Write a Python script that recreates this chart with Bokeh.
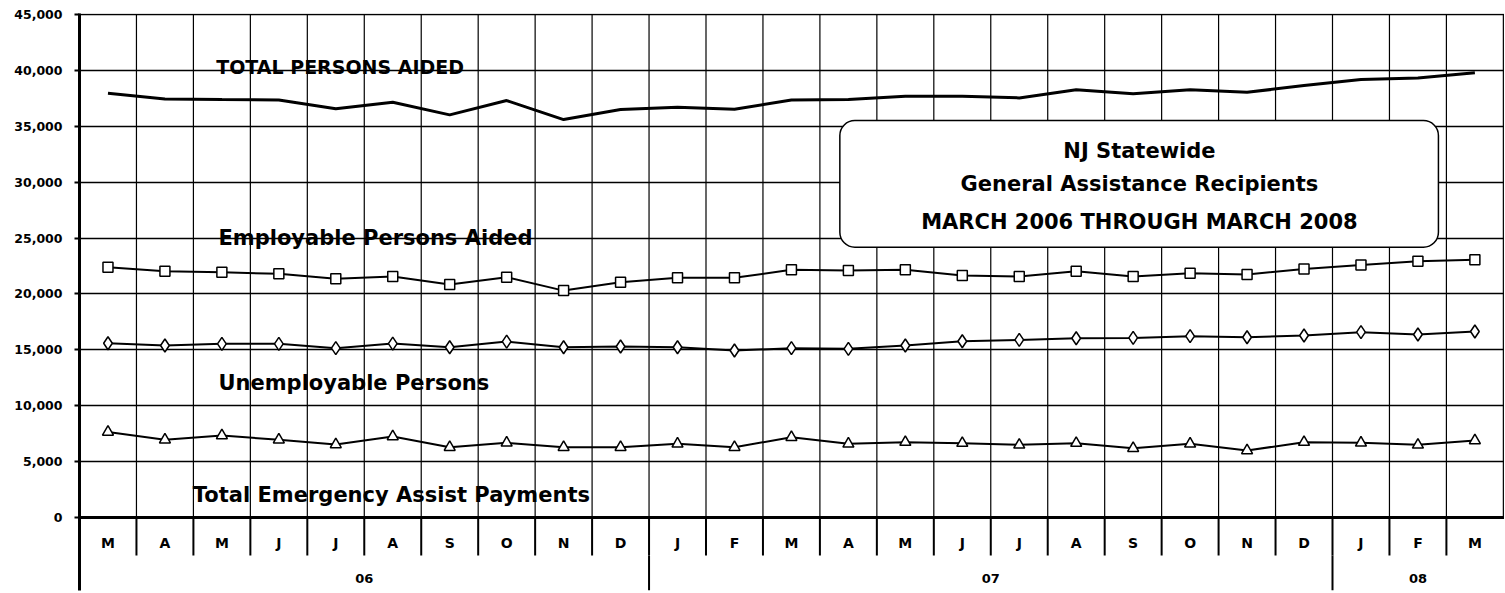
import numpy as np
from bokeh.plotting import figure
from bokeh.models import (Range1d, FixedTicker, NumeralTickFormatter, BoxAnnotation,
                          Label, Span, ColumnDataSource)
from bokeh.embed import file_html
from bokeh.resources import INLINE
from bokeh.core.properties import value

# ---------------- data ----------------
months = ["M", "A", "M", "J", "J", "A", "S", "O", "N", "D",
          "J", "F", "M", "A", "M", "J", "J", "A", "S", "O", "N", "D",
          "J", "F", "M"]
years = ["06", "07", "08"]
year_len = [10, 12, 3]

total_persons = [37950, 37450, 37400, 37360, 36560, 37150, 36020, 37300, 35600, 36500,
                 36700, 36520, 37360, 37390, 37690, 37690, 37540, 38260, 37900, 38260,
                 38040, 38640, 39180, 39330, 39780]
employable = [22390, 22030, 21940, 21800, 21350, 21560, 20840, 21500, 20300, 21050,
              21440, 21440, 22160, 22090, 22160, 21650, 21560, 22030, 21560, 21860,
              21740, 22240, 22600, 22930, 23050]
unemployable = [15590, 15390, 15540, 15540, 15150, 15560, 15230, 15740, 15230, 15300,
                15230, 14940, 15150, 15090, 15390, 15770, 15890, 16040, 16070, 16220,
                16130, 16280, 16580, 16370, 16640]
emergency = [7650, 6950, 7340, 6950, 6530, 7250, 6290, 6680, 6290, 6290,
             6590, 6290, 7180, 6590, 6740, 6650, 6500, 6650, 6200, 6590,
             5990, 6740, 6680, 6500, 6890]

y_ticks = list(range(0, 45001, 5000))

series_labels = ["TOTAL PERSONS AIDED", "Employable Persons Aided",
                 "Unemployable Persons", "Total Emergency Assist Payments"]
title_lines = ["NJ Statewide", "General Assistance Recipients",
               "MARCH 2006 THROUGH MARCH 2008"]

# ---------------- layout constants ----------------
Y_TOP = 45090
Y_BOTTOM = -6530
MONTH_ROW_BOTTOM = -3400
MONTH_LABEL_Y = -2300
YEAR_LABEL_Y = -5500
FONT = "DejaVu Sans"

n = len(months)
x = list(range(n))

p = figure(width=1504, height=592, output_backend="svg", toolbar_location=None,
           x_range=Range1d(-0.5, n - 0.48), y_range=Range1d(Y_BOTTOM, Y_TOP),
           x_axis_location=None, min_border_left=79, min_border_right=0,
           min_border_top=13, min_border_bottom=2)
p.outline_line_color = None
p.background_fill_color = "white"
p.border_fill_color = "white"

# y axis
p.yaxis.ticker = FixedTicker(ticks=y_ticks)
p.yaxis.formatter = NumeralTickFormatter(format="0,0")
p.yaxis.major_label_text_font = FONT
p.yaxis.major_label_text_font_style = "bold"
p.yaxis.major_label_text_font_size = "12.5px"
p.yaxis.major_label_text_color = "black"
p.yaxis.major_tick_out = 5
p.yaxis.major_tick_in = 0
p.yaxis.major_tick_line_width = 2
p.yaxis.minor_tick_line_color = None
p.yaxis.axis_line_width = 3
p.yaxis.axis_line_color = "black"
p.yaxis.major_label_standoff = 12

# grids
p.xgrid.visible = False
p.ygrid.grid_line_color = "black"
p.ygrid.grid_line_width = 1.3
p.ygrid.grid_line_alpha = 1.0

# vertical month boundaries (inside plot)
bounds = [i + 0.5 for i in range(n)]
p.segment(x0=bounds, y0=[0] * n, x1=bounds, y1=[y_ticks[-1]] * n,
          line_color="black", line_width=1.2)
# month row separators
inner = bounds[:-1]
p.segment(x0=inner, y0=[MONTH_ROW_BOTTOM] * len(inner), x1=inner, y1=[0] * len(inner),
          line_color="black", line_width=2)
# year separators
ystarts = list(np.cumsum([0] + year_len[:-1]))
ybounds = [s - 0.5 for s in ystarts[1:]]
p.segment(x0=ybounds, y0=[Y_BOTTOM] * len(ybounds), x1=ybounds,
          y1=[MONTH_ROW_BOTTOM] * len(ybounds), line_color="black", line_width=2)

# baseline at zero
p.add_layout(Span(location=0, dimension="width", line_color="black", line_width=3))

# category labels
p.text(x=x, y=[MONTH_LABEL_Y] * n, text=months, text_align="center",
       text_baseline="middle", text_font=value(FONT), text_font_style="bold",
       text_font_size="14px", text_color="black")
ycenters = [s + (l - 1) / 2 for s, l in zip(ystarts, year_len)]
p.text(x=ycenters, y=[YEAR_LABEL_Y] * len(years), text=years, text_align="center",
       text_baseline="middle", text_font=value(FONT), text_font_style="bold",
       text_font_size="13px", text_color="black")

# series
src = ColumnDataSource(dict(x=x, total=total_persons, emp=employable,
                            unemp=unemployable, emerg=emergency))
p.line("x", "total", source=src, line_color="black", line_width=3)
p.line("x", "emp", source=src, line_color="black", line_width=2)
p.scatter("x", "emp", source=src, marker="square", size=10, fill_color="white",
          line_color="black", line_width=1.5)
p.line("x", "unemp", source=src, line_color="black", line_width=2)
p.scatter("x", "unemp", source=src, marker="diamond", size=13, fill_color="white",
          line_color="black", line_width=1.5)
p.line("x", "emerg", source=src, line_color="black", line_width=2)
p.scatter("x", "emerg", source=src, marker="triangle", size=11, fill_color="white",
          line_color="black", line_width=1.5)

# series labels
p.text(x=[1.90], y=[40290], text=[series_labels[0]], text_font=value(FONT),
       text_font_style="bold", text_font_size="19px", text_baseline="alphabetic",
       text_color="black")
p.text(x=[1.94, 1.94, 1.49], y=[25050, 12050, 1970], text=series_labels[1:],
       text_font=value(FONT), text_font_style="bold", text_font_size="21px",
       text_baseline="alphabetic", text_color="black")

# title box
p.add_layout(BoxAnnotation(left=12.85, right=23.36, top=35515, bottom=24180,
                           fill_color="white", fill_alpha=1.0, line_color="black",
                           line_width=1.5, line_alpha=1.0, border_radius=15))
for txt, yy in zip(title_lines, [32830, 29850, 26420]):
    p.add_layout(Label(x=18.11, y=yy, text=txt, text_align="center",
                       text_baseline="alphabetic", text_font=FONT,
                       text_font_style="bold", text_font_size="21px",
                       text_color="black"))

open("out.html", "w").write(file_html(p, INLINE))
